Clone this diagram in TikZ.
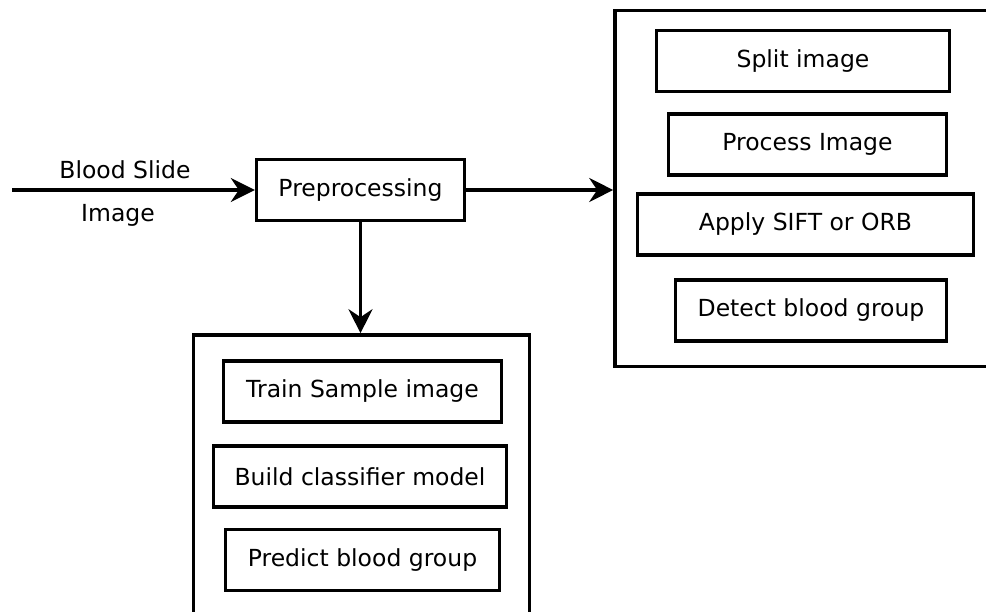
\documentclass[tikz,border=0pt]{standalone}
\usepackage{fontspec}
\setmainfont{DejaVu Sans}
\usetikzlibrary{positioning,calc,arrows.meta}

\tikzset{
    stepbox/.style={draw, line width=3.4pt, rectangle, inner sep=0pt,
                    minimum height=61pt, font=\fontsize{23.5}{27}\selectfont},
    groupbox/.style={draw, line width=3.6pt, rectangle, inner sep=0pt},
    flow/.style={line width=3.4pt, -{Stealth[length=24pt,width=24pt,inset=8pt]}}
}

\begin{document}
\begin{tikzpicture}[x=1pt, y=-1pt]
    \useasboundingbox (0,0) rectangle (986,612);
    \clip (0,0) rectangle (986,612);

    % Input
    \coordinate (input) at (12,190);
    \node[font=\fontsize{23.5}{27}\selectfont] (lblA) at (125,170) {Blood Slide};
    \node[font=\fontsize{23.5}{27}\selectfont] (lblB) at (118,215) {Image};

    % Preprocessing
    \node[stepbox, minimum width=208pt] (pre) at (360.5,190) {Preprocessing};

    % Feature stage (right)
    \node[groupbox, minimum width=400pt, minimum height=356pt] (stage) at (815,188.5) {};
    \node[stepbox, minimum width=293pt] (split)   at (803,61)    {Split image};
    \node[stepbox, minimum width=278pt] (process) at (807.5,144.5) {Process Image};
    \node[stepbox, minimum width=336pt] (sift)    at (805.5,224.5) {Apply SIFT or ORB};
    \node[stepbox, minimum width=271pt] (detect)  at (811,310.5) {Detect blood group};

    % Training stage (bottom)
    \node[groupbox, minimum width=336pt, minimum height=320pt] (train) at (361.5,495) {};
    \node[stepbox, minimum width=278pt] (sample)  at (362.5,391.5) {Train Sample image};
    \node[stepbox, minimum width=293pt] (model)   at (360,476.5)   {Build classifier model};
    \node[stepbox, minimum width=274pt] (predict) at (362.5,560)   {Predict blood group};

    % Connectors
    \draw[flow] (input) -- (pre.west);
    \draw[flow] (pre.east) -- (pre.east -| stage.west);
    \draw[flow] (pre.south) -- (pre.south |- train.north);

\end{tikzpicture}
\end{document}
